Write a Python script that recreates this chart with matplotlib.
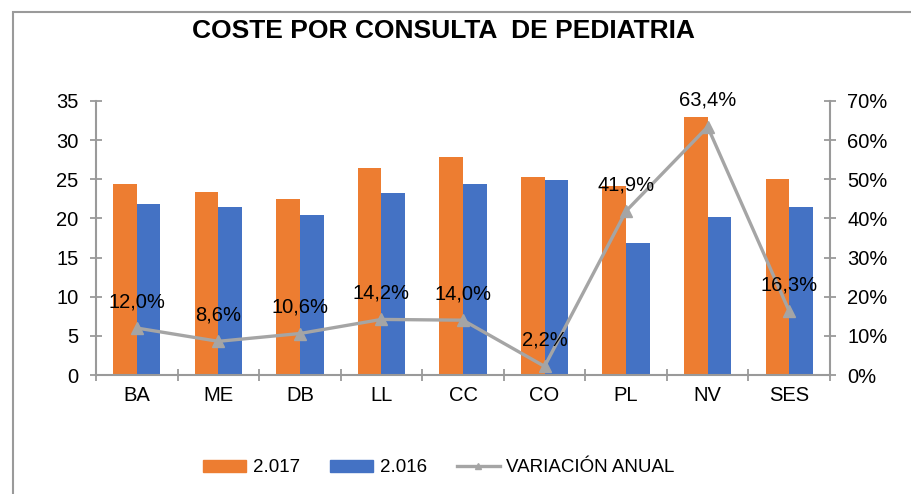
import matplotlib
matplotlib.use("Agg")
import matplotlib.pyplot as plt
import numpy as np
from matplotlib.patches import Rectangle, Patch
from matplotlib.lines import Line2D
from matplotlib.ticker import FuncFormatter, FixedLocator

plt.rcParams['font.family'] = ['Liberation Sans', 'DejaVu Sans']

categories = ["BA", "ME", "DB", "LL", "CC", "CO", "PL", "NV", "SES"]
v2017 = [24.35, 23.4, 22.5, 26.4, 27.8, 25.35, 24.1, 32.95, 25.0]
v2016 = [21.8, 21.5, 20.4, 23.2, 24.35, 24.85, 16.9, 20.2, 21.5]
variacion = [12.0, 8.6, 10.6, 14.2, 14.0, 2.2, 41.9, 63.4, 16.3]
var_labels = ["12,0%", "8,6%", "10,6%", "14,2%", "14,0%", "2,2%", "41,9%", "63,4%", "16,3%"]

ORANGE = "#ED7D31"
BLUE = "#4472C4"
GRAY = "#A5A5A5"
AXGRAY = "#9A9A9A"
FS = 14.5

fig = plt.figure(figsize=(9.11, 4.94), dpi=100)
ax = fig.add_axes([96/911, 1-375/494, (830-96)/911, (375-101)/494])
ax2 = ax.twinx()

x = np.arange(len(categories))
w = 0.29
ax.bar(x - w/2, v2017, width=w, color=ORANGE, zorder=2)
ax.bar(x + w/2, v2016, width=w, color=BLUE, zorder=2)

ax.set_xlim(-0.5, len(categories) - 0.5)
ax.set_ylim(0, 35)
ax.set_yticks(np.arange(0, 36, 5))
ax.set_xticks(x)
ax.set_xticklabels(categories, fontsize=FS)
ax.xaxis.set_minor_locator(FixedLocator(np.arange(-0.5, len(categories), 1)))
ax.tick_params(axis='x', which='major', length=0, pad=8)
ax.tick_params(axis='x', which='minor', length=9, direction='inout', color=AXGRAY, width=1.3)
ax.tick_params(axis='y', labelsize=FS, length=9, direction='inout', color=AXGRAY, width=1.3, pad=8)

ax2.plot(x, variacion, color=GRAY, lw=2.4, marker='^', markersize=8, zorder=3)
ax2.set_ylim(0, 70)
ax2.set_yticks(np.arange(0, 71, 10))
ax2.yaxis.set_major_formatter(FuncFormatter(lambda v, p: f"{int(v)}%"))
ax2.tick_params(axis='y', labelsize=FS, length=9, direction='inout', color=AXGRAY, width=1.3, pad=8)

for xi, yi, lab in zip(x, variacion, var_labels):
    ax2.annotate(lab, (xi, yi), xytext=(0, 19), textcoords='offset points',
                 ha='center', va='center', fontsize=FS, color='black')

for a in (ax, ax2):
    a.spines['top'].set_visible(False)
    for s in ('left', 'right', 'bottom'):
        a.spines[s].set_color(AXGRAY)
        a.spines[s].set_linewidth(1.5)
    a.set_facecolor('none')
ax.spines['right'].set_visible(False)
ax2.spines['left'].set_visible(False)
ax2.spines['bottom'].set_visible(False)

fig.text(443/911, 1-31/494, "COSTE POR CONSULTA  DE PEDIATRIA", ha='center', va='center',
         fontsize=19, fontweight='bold')

fig.patches.append(Rectangle((13/911, -0.1), 1.2, 1-12/494+0.1, transform=fig.transFigure,
                             fill=False, edgecolor=AXGRAY, lw=1.5))

handles = [Patch(color=ORANGE), Patch(color=BLUE),
           Line2D([0], [0], color=GRAY, lw=2.4, marker='^', markersize=5)]
fig.legend(handles, ["2.017", "2.016", "VARIACIÓN ANUAL"], loc='center',
           bbox_to_anchor=(439/911, 1-468/494), ncol=3, frameon=False, fontsize=13.5,
           handlelength=2.3, handleheight=0.55, handletextpad=0.35, columnspacing=1.6)

fig.savefig("out.png", dpi=100)
